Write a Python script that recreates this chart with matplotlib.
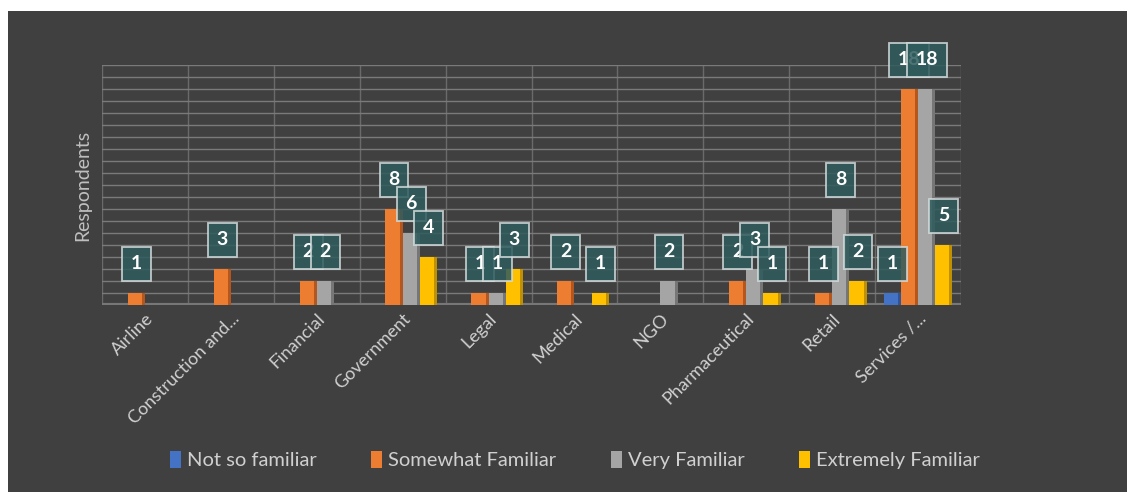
import matplotlib
matplotlib.use("Agg")
import matplotlib.pyplot as plt
import matplotlib.patches as mpatches
import numpy as np

# ── Data ─────────────────────────────────────────────────────────────────────
categories = ["Airline", "Construction and...", "Financial", "Government", "Legal",
              "Medical", "NGO", "Pharmaceutical", "Retail", "Services /..."]
series_names = ["Not so familiar", "Somewhat Familiar", "Very Familiar", "Extremely Familiar"]
not_so     = [0, 0, 0, 0, 0, 0, 0, 0, 0, 1]
somewhat   = [1, 3, 2, 8, 1, 2, 0, 2, 1, 18]
very       = [0, 0, 2, 6, 1, 0, 2, 3, 8, 18]
extremely  = [0, 0, 0, 4, 3, 1, 0, 1, 2, 5]

colors = ["#4472C4", "#ED7D31", "#A5A5A5", "#FFC000"]
sides  = ["#2f5597", "#b4571f", "#767676", "#bf9000"]

BG = "#404040"
plt.rcParams["font.family"] = ["Lato", "DejaVu Sans"]

fig = plt.figure(figsize=(11.27, 4.92), dpi=100)
fig.patch.set_facecolor("white")
fig.add_artist(mpatches.Rectangle((8/1127, 0), 1, (492-11)/492,
                                  transform=fig.transFigure, facecolor=BG,
                                  edgecolor="none", zorder=-10))

ax = fig.add_axes([102/1127, 187/492, 859/1127, 240/492])
ax.set_facecolor(BG)
ax.patch.set_alpha(0)

x = np.arange(len(categories))
bw = 0.2
front = 0.165
depth = 0.035
offsets = [-1.5, -0.5, 0.5, 1.5]
all_series = [not_so, somewhat, very, extremely]

for vals, off, c, sc in zip(all_series, offsets, colors, sides):
    for xi, v in zip(x, vals):
        if v <= 0:
            continue
        pos = xi + off*bw
        # front face plus a darker side strip for the 3-D look
        ax.bar(pos - depth/2, v, front, color=c, edgecolor="none", zorder=3)
        ax.bar(pos + front/2, v, depth, color=sc, edgecolor="none", zorder=3)
        ax.annotate(str(v), (pos, v), xytext=(0, 21), textcoords="offset points",
                    ha="center", va="center", fontsize=14, fontweight="bold",
                    color="white", zorder=5,
                    bbox=dict(boxstyle="square,pad=0.45", facecolor="#2f5c5e",
                              edgecolor="#d5dddd", linewidth=1.3, alpha=0.85))

ax.set_xlim(-0.5, len(categories) - 0.5)
ax.set_ylim(0, 20)
ax.set_yticks(np.arange(0, 21, 1))
ax.set_yticklabels([])
ax.tick_params(axis="y", length=0)
ax.set_xticks(x)
ax.set_xticks(np.arange(-0.5, len(categories), 0.5), minor=True)
ax.set_xticklabels(categories, rotation=45, ha="right", rotation_mode="anchor",
                   fontsize=13, color="#d0d0d0")
ax.tick_params(axis="x", length=0, pad=4, which="both")
ax.yaxis.grid(True, color="#7a7a7a", linewidth=1.0, zorder=1)
ax.xaxis.grid(True, which="minor", color="#6a6a6a", linewidth=1.0, zorder=1)
ax.axhline(0, color="#777777", linewidth=3, zorder=2)
for s in ax.spines.values():
    s.set_visible(False)
ax.set_axisbelow(True)

ax.set_ylabel("Respondents", fontsize=14, color="#bfbfbf", labelpad=4)

handles = [mpatches.Patch(facecolor=c, edgecolor="none", label=n)
           for c, n in zip(colors, series_names)]
fig.legend(handles=handles, loc="center", bbox_to_anchor=(575/1127, 1 - 460/492),
           ncol=4, frameon=False, fontsize=14.5, labelcolor="#d0d0d0",
           handlelength=0.55, handleheight=0.9, handletextpad=0.3, columnspacing=2.7)

fig.savefig("out.png", dpi=100, facecolor=fig.get_facecolor())
